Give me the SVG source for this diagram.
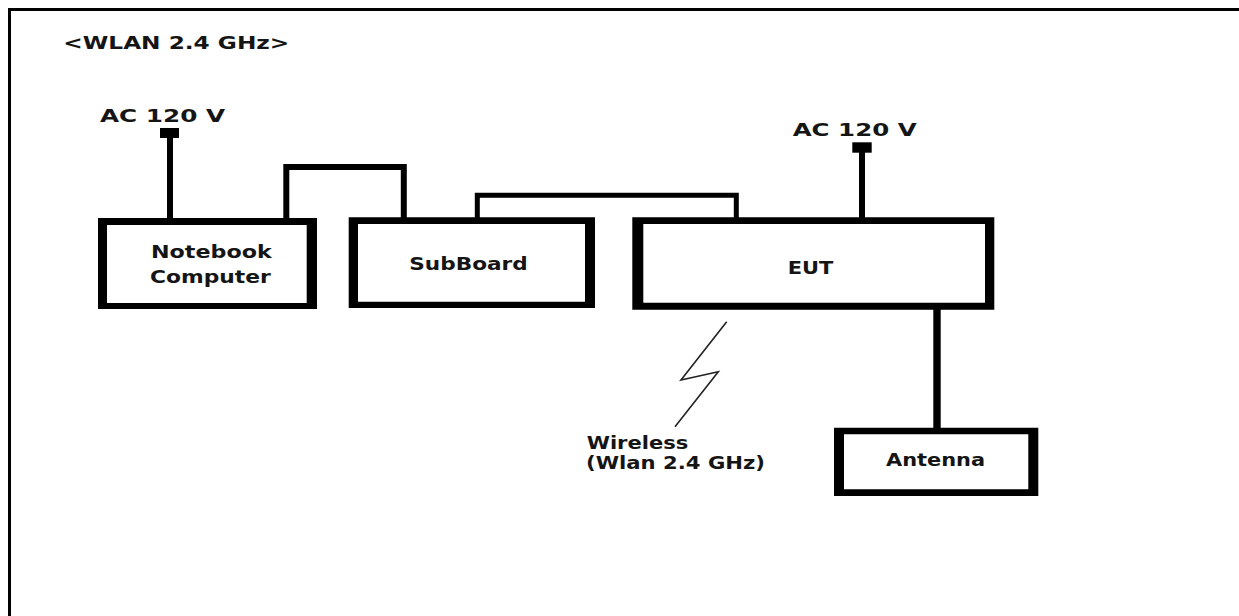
<svg xmlns="http://www.w3.org/2000/svg" width="1239" height="616" viewBox="0 0 1239 616">
<style>
.t{font-family:"DejaVu Sans",Verdana,sans-serif;font-weight:bold;font-size:17px;fill:#151515}
.box{fill:#000;fill-rule:evenodd}
.w{stroke:#000;stroke-width:6;fill:none}
</style>
<rect width="1239" height="616" fill="#fff"/>
<g id="frame"><path d="M9.5 616 V9.5 H1239" stroke="#000" stroke-width="3" fill="none"/></g>
<text class="t" x="63.3" y="49" textLength="226" lengthAdjust="spacingAndGlyphs">&lt;WLAN 2.4 GHz&gt;</text>
<g id="connectors">
<path class="w" d="M170 138 V218"/>
<rect x="160" y="128" width="19" height="10" fill="#000"/>
<path class="w" d="M286.3 218 V167 H403.8 V218"/>
<path d="M477.3 218 V195.3 H736.3 V218" stroke="#000" stroke-width="5" fill="none"/>
<path class="w" d="M862 152 V218"/>
<rect x="852.3" y="142.3" width="19.4" height="10.4" fill="#000"/>
<path d="M937 309 V428" stroke="#000" stroke-width="7.4" fill="none"/>
<path d="M726.7 321.7 L681 380 L718.3 371.7 L675 426.7" stroke="#222" stroke-width="1.6" fill="none"/>
</g>
<g id="ac-left"><text class="t" x="100" y="122" textLength="125" lengthAdjust="spacingAndGlyphs">AC 120 V</text></g>
<g id="ac-right"><text class="t" x="792.7" y="136" textLength="124" lengthAdjust="spacingAndGlyphs">AC 120 V</text></g>
<g id="notebook">
<path class="box" d="M98 218 H317 V309 H98 Z M107 225 V303 H306.7 V225 Z"/>
<text class="t" x="151" y="258" textLength="120.7" lengthAdjust="spacingAndGlyphs">Notebook</text>
<text class="t" x="150" y="282.5" textLength="120.7" lengthAdjust="spacingAndGlyphs">Computer</text>
</g>
<g id="subboard">
<path class="box" d="M348.7 217.3 H595 V308 H348.7 Z M358 224 V301.7 H585 V224 Z"/>
<text class="t" x="409.3" y="270" textLength="118.4" lengthAdjust="spacingAndGlyphs">SubBoard</text>
</g>
<g id="eut">
<path class="box" d="M632.3 217.3 H994.3 V309.7 H632.3 Z M643.3 224 V302.7 H985 V224 Z"/>
<text class="t" x="787.7" y="274" textLength="45.6" lengthAdjust="spacingAndGlyphs">EUT</text>
</g>
<g id="wireless">
<text class="t" x="586.7" y="449" textLength="101.6" lengthAdjust="spacingAndGlyphs">Wireless</text>
<text class="t" x="586" y="468.5" textLength="179" lengthAdjust="spacingAndGlyphs">(Wlan 2.4 GHz)</text>
</g>
<g id="antenna">
<path class="box" d="M834 427.7 H1038.3 V496 H834 Z M844 434.3 V489.3 H1028.3 V434.3 Z"/>
<text class="t" x="886" y="465.7" textLength="99" lengthAdjust="spacingAndGlyphs">Antenna</text>
</g>
</svg>
